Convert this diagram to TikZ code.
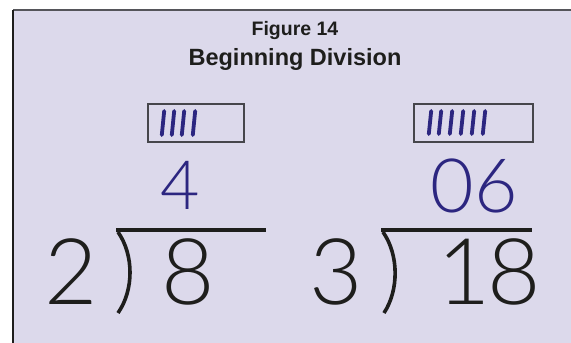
\documentclass[tikz,border=0pt]{standalone}
\usepackage{fontspec}
\setmainfont{Liberation Sans}
\newfontfamily\thinfont{Lato Light}
\definecolor{panel}{RGB}{220,217,235}
\definecolor{topgray}{RGB}{85,85,90}
\definecolor{ink}{RGB}{30,30,28}
\definecolor{pen}{RGB}{44,38,128}
\definecolor{boxline}{RGB}{70,70,75}
\tikzset{
  title1/.style={font=\bfseries\fontsize{19.5}{22}\selectfont, anchor=base, inner sep=0pt, text=ink},
  title2/.style={font=\bfseries\fontsize{23.5}{27}\selectfont, anchor=base, inner sep=0pt, text=ink},
  bigdigit/.style={font=\thinfont\fontsize{92}{100}\selectfont, anchor=base, inner sep=0pt, text=ink},
  handdigit/.style={font=\thinfont\fontsize{#1}{80}\selectfont, anchor=base, inner sep=0pt, text=pen},
  tallybox/.style={draw=boxline, line width=1.4pt},
  tally/.style={draw=pen, line width=3.8pt, line cap=round},
  barline/.style={draw=ink, line width=4.6pt},
  bracket/.style={draw=ink, line width=3.6pt}
}
\begin{document}
\begin{tikzpicture}[x=1pt,y=-1pt]
\useasboundingbox (0,0) rectangle (571,343);
\fill[white] (0,0) rectangle (571,343);
\fill[panel] (13,10) rectangle (571,343);
\draw[topgray, line width=2pt] (13,10) -- (571,10);
\draw[ink, line width=1.5pt] (13,10) -- (13,343);

\node[title1] (fig) at (295,35) {Figure 14};
\node[title2] (ttl) at (295,65) {Beginning Division};

% tally boxes
\draw[tallybox] (148,104) rectangle (244,142);
\foreach \x in {163,173,183,194}
  \draw[tally] (\x+1.2,111) .. controls (\x+0.8,123) .. (\x-1.2,135);
\draw[tallybox] (414,104) rectangle (533,142);
\foreach \x in {430,440,451,462,473,484}
  \draw[tally] (\x+1.2,111) .. controls (\x+0.8,122) .. (\x-1.2,134);

% handwritten quotients
\node[handdigit=68] (q1) at (180,209) {4};
\node[handdigit=75] (q2) at (474,212) {06};

% first division
\node[bigdigit] (d1) at (71,304) {2};
\draw[barline] (116,230) -- (266,230);
\draw[bracket] (118,232) .. controls (134,255) and (134,290) .. (118,313);
\node[bigdigit] (n1) at (188,304) {8};

% second division
\node[bigdigit] (d2) at (336,304) {3};
\draw[barline] (381,230) -- (532,230);
\draw[bracket] (383,232) .. controls (399,255) and (399,290) .. (384,313);
\node[bigdigit] (n2) at (489,304) {1\kern-4pt 8};
\end{tikzpicture}
\end{document}
